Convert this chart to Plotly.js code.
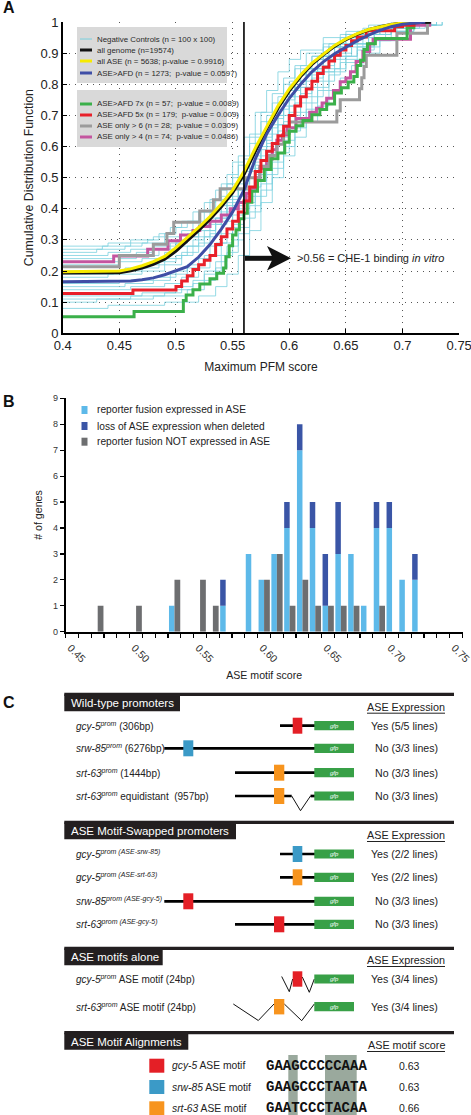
<!DOCTYPE html>
<html><head><meta charset="utf-8">
<script src="https://cdn.plot.ly/plotly-3.0.1.min.js"></script>
<style>html,body{margin:0;padding:0;background:#fff;}#chart{width:471px;height:1115px;}</style>
</head><body><div id="chart"></div>
<script>
// ---------------- Panel A data (CDF of maximum PFM score) ----------------
const threshold = 0.56;
const negCtrlX = [
 [0.40,0.44,0.46,0.48,0.49,0.50,0.51,0.52,0.53,0.54,0.55,0.56,0.57,0.58,0.59,0.60,0.61,0.63,0.65,0.67,0.70],
 [0.40,0.435,0.46,0.475,0.485,0.495,0.505,0.515,0.525,0.535,0.545,0.555,0.565,0.575,0.585,0.595,0.605,0.615,0.63,0.645,0.665,0.69],
 [0.40,0.43,0.455,0.47,0.49,0.505,0.515,0.525,0.535,0.545,0.555,0.565,0.575,0.585,0.595,0.605,0.62,0.635,0.65,0.67,0.69,0.71],
 [0.40,0.44,0.46,0.48,0.50,0.51,0.52,0.53,0.54,0.55,0.56,0.57,0.58,0.59,0.60,0.61,0.62,0.63,0.645,0.66,0.68,0.70],
 [0.40,0.445,0.465,0.48,0.495,0.51,0.52,0.53,0.54,0.55,0.56,0.57,0.58,0.59,0.60,0.61,0.625,0.64,0.655,0.675,0.70,0.72],
 [0.40,0.45,0.465,0.485,0.50,0.51,0.52,0.535,0.545,0.555,0.565,0.575,0.585,0.595,0.605,0.615,0.625,0.635,0.65,0.665,0.685,0.71],
 [0.40,0.45,0.47,0.49,0.50,0.515,0.525,0.535,0.545,0.555,0.565,0.575,0.585,0.595,0.605,0.615,0.63,0.645,0.66,0.68,0.70,0.72],
 [0.40,0.455,0.475,0.49,0.505,0.52,0.53,0.54,0.55,0.56,0.57,0.58,0.59,0.60,0.61,0.62,0.635,0.65,0.665,0.685,0.705,0.725],
 [0.40,0.445,0.47,0.485,0.50,0.51,0.52,0.53,0.54,0.55,0.56,0.57,0.58,0.59,0.60,0.61,0.62,0.63,0.645,0.66,0.68,0.70],
 [0.40,0.44,0.47,0.49,0.505,0.515,0.525,0.535,0.545,0.555,0.565,0.575,0.585,0.595,0.605,0.615,0.625,0.64,0.655,0.67,0.69,0.71],
 [0.40,0.45,0.48,0.50,0.51,0.525,0.535,0.545,0.555,0.565,0.575,0.585,0.595,0.605,0.615,0.625,0.64,0.655,0.67,0.69,0.71,0.73],
 [0.40,0.455,0.48,0.495,0.51,0.52,0.53,0.54,0.55,0.56,0.57,0.58,0.59,0.60,0.61,0.62,0.63,0.64,0.655,0.67,0.69,0.715],
 [0.40,0.46,0.49,0.505,0.52,0.53,0.54,0.55,0.56,0.57,0.58,0.59,0.60,0.61,0.62,0.63,0.645,0.66,0.675,0.69,0.71,0.73],
 [0.40,0.47,0.50,0.515,0.525,0.535,0.545,0.555,0.565,0.575,0.585,0.595,0.605,0.615,0.625,0.635,0.65,0.665,0.68,0.695,0.71,0.735],
 [0.40,0.46,0.49,0.505,0.515,0.525,0.54,0.55,0.56,0.57,0.58,0.59,0.60,0.61,0.62,0.63,0.64,0.65,0.66,0.675,0.695,0.72],
 [0.40,0.43,0.48,0.51,0.525,0.535,0.545,0.555,0.565,0.575,0.585,0.595,0.605,0.615,0.625,0.635,0.645,0.66,0.675,0.69,0.705,0.73],
 [0.40,0.44,0.49,0.52,0.535,0.545,0.555,0.565,0.575,0.585,0.595,0.605,0.615,0.625,0.635,0.645,0.655,0.665,0.68,0.695,0.71,0.735]
];
const negCtrlY = [
 [0.28,0.29,0.30,0.31,0.32,0.34,0.36,0.39,0.43,0.48,0.55,0.63,0.71,0.78,0.84,0.88,0.91,0.95,0.97,0.99,1.00],
 [0.27,0.28,0.29,0.30,0.32,0.34,0.36,0.39,0.42,0.46,0.51,0.57,0.64,0.71,0.77,0.82,0.86,0.90,0.93,0.96,0.98,1.00],
 [0.26,0.27,0.28,0.29,0.31,0.33,0.36,0.39,0.43,0.48,0.54,0.61,0.68,0.74,0.80,0.85,0.89,0.93,0.96,0.98,0.99,1.00],
 [0.25,0.26,0.27,0.28,0.30,0.32,0.35,0.39,0.44,0.50,0.56,0.63,0.70,0.76,0.81,0.86,0.89,0.92,0.95,0.97,0.99,1.00],
 [0.24,0.25,0.26,0.27,0.29,0.31,0.34,0.37,0.41,0.46,0.52,0.59,0.66,0.72,0.78,0.83,0.88,0.92,0.95,0.98,0.99,1.00],
 [0.23,0.24,0.25,0.27,0.29,0.31,0.33,0.37,0.43,0.49,0.56,0.63,0.70,0.76,0.81,0.85,0.89,0.92,0.95,0.97,0.99,1.00],
 [0.22,0.23,0.24,0.26,0.28,0.30,0.33,0.37,0.42,0.48,0.55,0.62,0.69,0.75,0.80,0.85,0.89,0.93,0.96,0.98,0.99,1.00],
 [0.20,0.21,0.22,0.24,0.26,0.29,0.32,0.36,0.41,0.47,0.54,0.61,0.67,0.73,0.79,0.84,0.88,0.92,0.95,0.97,0.99,1.00],
 [0.19,0.20,0.21,0.23,0.25,0.28,0.31,0.35,0.39,0.44,0.50,0.57,0.64,0.70,0.76,0.81,0.85,0.89,0.93,0.96,0.98,1.00],
 [0.18,0.19,0.20,0.22,0.25,0.28,0.31,0.35,0.40,0.46,0.53,0.60,0.67,0.73,0.79,0.84,0.88,0.92,0.95,0.97,0.99,1.00],
 [0.16,0.17,0.18,0.20,0.22,0.25,0.29,0.34,0.40,0.47,0.54,0.61,0.68,0.74,0.79,0.84,0.89,0.93,0.96,0.98,0.99,1.00],
 [0.15,0.16,0.17,0.19,0.21,0.24,0.28,0.32,0.38,0.44,0.51,0.58,0.65,0.71,0.77,0.82,0.86,0.90,0.93,0.96,0.98,1.00],
 [0.14,0.15,0.16,0.18,0.21,0.25,0.29,0.35,0.42,0.49,0.56,0.63,0.70,0.76,0.81,0.85,0.89,0.93,0.96,0.98,0.99,1.00],
 [0.12,0.13,0.14,0.16,0.19,0.23,0.28,0.34,0.41,0.48,0.55,0.62,0.68,0.74,0.79,0.84,0.88,0.92,0.95,0.97,0.99,1.00],
 [0.11,0.12,0.13,0.15,0.17,0.20,0.25,0.30,0.37,0.44,0.51,0.58,0.65,0.71,0.76,0.81,0.85,0.89,0.92,0.95,0.98,1.00],
 [0.10,0.11,0.12,0.14,0.17,0.21,0.26,0.32,0.39,0.46,0.53,0.60,0.66,0.72,0.78,0.83,0.87,0.91,0.94,0.97,0.99,1.00],
 [0.08,0.09,0.10,0.12,0.15,0.19,0.25,0.33,0.42,0.50,0.57,0.63,0.68,0.73,0.78,0.82,0.86,0.90,0.94,0.97,0.99,1.00]
];
const genomeX = [0.40,0.45,0.46,0.47,0.48,0.49,0.50,0.51,0.52,0.53,0.54,0.55,0.56,0.57,0.58,0.59,0.60,0.61,0.62,0.63,0.64,0.65,0.66,0.67,0.68,0.69,0.70,0.725];
const genomeY = [0.194,0.195,0.201,0.210,0.222,0.238,0.264,0.297,0.331,0.367,0.407,0.452,0.510,0.585,0.657,0.723,0.779,0.825,0.864,0.895,0.922,0.944,0.961,0.975,0.985,0.992,0.997,1.0];
const allAseX = [0.40,0.45,0.46,0.47,0.48,0.49,0.50,0.51,0.52,0.53,0.54,0.55,0.56,0.57,0.58,0.59,0.60,0.61,0.62,0.63,0.64,0.65,0.66,0.67,0.68,0.69,0.70,0.71];
const allAseY = [0.198,0.200,0.207,0.217,0.230,0.247,0.275,0.307,0.340,0.375,0.415,0.460,0.520,0.595,0.665,0.730,0.785,0.830,0.868,0.898,0.925,0.946,0.963,0.976,0.985,0.992,0.997,1.0];
const aseAfdX = [0.40,0.45,0.46,0.47,0.48,0.49,0.50,0.51,0.52,0.53,0.54,0.55,0.56,0.57,0.58,0.59,0.60,0.61,0.62,0.63,0.64,0.65,0.66,0.67,0.68,0.69,0.70,0.72];
const aseAfdY = [0.166,0.166,0.168,0.172,0.178,0.188,0.200,0.214,0.245,0.285,0.335,0.390,0.460,0.560,0.640,0.700,0.755,0.800,0.840,0.872,0.898,0.920,0.940,0.958,0.973,0.985,0.993,1.0];
const afd7X = [0.40,0.463,0.5065,0.509,0.515,0.521,0.53,0.536,0.542,0.544,0.547,0.550,0.553,0.556,0.560,0.563,0.567,0.572,0.578,0.584,0.590,0.596,0.600,0.606,0.612,0.620,0.627,0.633,0.640,0.646,0.652,0.657,0.660,0.663,0.666,0.669,0.676,0.704,0.71];
const afd7Y = [0.053,0.070,0.105,0.123,0.140,0.158,0.175,0.193,0.210,0.246,0.281,0.316,0.333,0.368,0.386,0.421,0.456,0.491,0.526,0.561,0.579,0.614,0.649,0.667,0.684,0.702,0.719,0.737,0.772,0.789,0.807,0.825,0.860,0.877,0.912,0.930,0.947,0.982,1.0];
const afd5X = [0.40,0.462,0.50,0.505,0.51,0.515,0.52,0.525,0.53,0.535,0.54,0.545,0.55,0.555,0.56,0.565,0.57,0.575,0.58,0.585,0.59,0.595,0.60,0.605,0.61,0.615,0.62,0.625,0.63,0.635,0.64,0.645,0.65,0.655,0.66,0.668,0.693,0.70,0.71];
const afd5Y = [0.128,0.139,0.150,0.168,0.185,0.205,0.220,0.235,0.250,0.285,0.310,0.335,0.360,0.390,0.425,0.470,0.520,0.555,0.585,0.610,0.635,0.665,0.700,0.730,0.760,0.785,0.810,0.835,0.855,0.875,0.893,0.910,0.925,0.940,0.952,0.972,0.985,0.990,1.0];
const only6X = [0.40,0.45,0.48,0.492,0.498,0.521,0.533,0.539,0.562,0.574,0.582,0.589,0.595,0.60,0.642,0.645,0.662,0.664,0.666,0.668,0.695,0.722];
const only6Y = [0.214,0.250,0.286,0.321,0.357,0.393,0.429,0.464,0.500,0.536,0.571,0.607,0.643,0.679,0.714,0.750,0.786,0.821,0.857,0.893,0.964,1.0];
const only4X = [0.40,0.445,0.475,0.493,0.504,0.515,0.521,0.53,0.54,0.548,0.555,0.562,0.566,0.570,0.574,0.580,0.585,0.589,0.594,0.598,0.606,0.618,0.624,0.629,0.633,0.639,0.645,0.65,0.654,0.659,0.665,0.671,0.674,0.707,0.724];
const only4Y = [0.230,0.248,0.270,0.297,0.316,0.330,0.343,0.360,0.380,0.400,0.420,0.450,0.466,0.500,0.530,0.560,0.590,0.620,0.637,0.660,0.690,0.710,0.723,0.740,0.755,0.780,0.808,0.820,0.840,0.873,0.905,0.930,0.945,0.990,1.0];
const legendALabels = ['Negative Controls (n = 100 x 100)','all genome (n=19574)','all ASE (n = 5638; p-value = 0.9916)','ASE>AFD (n = 1273;&nbsp; p-value = 0.0597)','ASE>AFD 7x (n = 57;&nbsp; p-value = 0.0089)','ASE>AFD 5x (n = 179;&nbsp; p-value = 0.009)','ASE only > 6 (n = 28;&nbsp; p-value = 0.0309)','ASE only > 4 (n = 74;&nbsp; p-value = 0.0486)'];

// ---------------- Panel B data (histogram of ASE motif score) ----------------
const binStarts = [0.46,0.47,0.48,0.49,0.50,0.51,0.52,0.53,0.54,0.55,0.56,0.57,0.58,0.59,0.60,0.61,0.62,0.63,0.64,0.65,0.66,0.67,0.68,0.69,0.70,0.71];
const expressedASE = [0,0,0,0,0,0,1,0,0,0,1,0,3,2,3,4,7,4,1,3,3,1,4,4,2,2];
const lossWhenDeleted = [0,0,0,0,0,0,0,0,0,0,1,0,0,0,0,1,1,1,2,2,0,0,1,1,0,1];
const notExpressed = [1,0,0,1,0,0,2,0,2,1,0,0,0,2,3,1,2,1,1,1,1,0,1,0,0,0];
const legendBLabels = ['reporter fusion expressed in ASE','loss of ASE expression when deleted','reporter fusion NOT expressed in ASE'];

// ---------------- Panel C text ----------------
const wildLabels = ['<i>gcy-5</i><sup><i>prom</i></sup> (306bp)','<i>srw-85</i><sup><i>prom</i></sup> (6276bp)','<i>srt-63</i><sup><i>prom</i></sup> (1444bp)','<i>srt-63</i><sup><i>prom</i></sup> equidistant&nbsp; (957bp)'];
const wildResults = ['Yes (5/5 lines)','No (3/3 lines)','No (3/3 lines)','No (3/3 lines)'];
const swapLabels = ['<i>gcy-5</i><sup><i>prom (ASE-srw-85)</i></sup>','<i>gcy-5</i><sup><i>prom (ASE-srt-63)</i></sup>','<i>srw-85</i><sup><i>prom (ASE-gcy-5)</i></sup>','<i>srt-63</i><sup><i>prom (ASE-gcy-5)</i></sup>'];
const swapResults = ['Yes (2/2 lines)','Yes (2/2 lines)','No (3/3 lines)','No (3/3 lines)'];
const aloneLabels = ['<i>gcy-5</i><sup><i>prom</i></sup> ASE motif (24bp)','<i>srt-63</i><sup><i>prom</i></sup> ASE motif (24bp)'];
const aloneResults = ['Yes (3/4 lines)','Yes (3/4 lines)'];
const headerTitles = ['Wild-type promoters','ASE Motif-Swapped promoters','ASE motifs alone','ASE Motif Alignments'];
const headerRight = ['ASE Expression','ASE Expression','ASE Expression','ASE motif score'];
const motifGenes = ['gcy-5','srw-85','srt-63'];
const motifSeqs = ['GAAGCCCCCAAA','GAAGCCCTAATA','GAATCCCTACAA'];
const motifScores = ['0.63','0.63','0.66'];

// ---------------- drawing ----------------
const W = 471, H = 1115;
const FONT = 'Liberation Sans, Arial, Helvetica, sans-serif';
const X = p => p / W, Y = p => 1 - p / H;
const shapes = [], ann = [];
function txt(px, py, text, size, o) {
  o = o || {};
  ann.push({xref:'paper', yref:'paper', x:X(px), y:Y(py), text:text, showarrow:false,
    xanchor:o.xa || 'left', yanchor:'middle', textangle:o.angle || 0,
    font:{family:o.family || FONT, size:size, color:o.color || '#222'}});
}
function rect(x0, y0, x1, y1, fill, layer) {
  shapes.push({type:'rect', xref:'paper', yref:'paper', x0:X(x0), x1:X(x1), y0:Y(y1), y1:Y(y0),
    fillcolor:fill, line:{width:0}, layer:layer || 'above'});
}
function seg(x0, y0, x1, y1, w, c) {
  shapes.push({type:'line', xref:'paper', yref:'paper', x0:X(x0), x1:X(x1), y0:Y(y0), y1:Y(y1), line:{width:w, color:c || '#000'}});
}
function poly(pts, w, fill) {
  const d = 'M ' + pts.map(p => X(p[0]) + ',' + Y(p[1])).join(' L ') + (fill ? ' Z' : '');
  shapes.push({type:'path', xref:'paper', yref:'paper', path:d,
    line:{width:fill ? 0 : w, color:'#111'}, fillcolor:fill || 'rgba(0,0,0,0)'});
}

const traces = [];
const dA = {xaxis:'x', yaxis:'y', mode:'lines', hoverinfo:'skip', showlegend:false};
negCtrlX.forEach((xs, i) => traces.push(Object.assign({}, dA, {x:xs, y:negCtrlY[i], line:{color:'#7ad0de', width:0.8, shape:'hv'}})));
const mainCurves = [
  [only4X, only4Y, '#c4559f', 3, 'hv'],
  [only6X, only6Y, '#9b9b9b', 3, 'hv'],
  [afd7X, afd7Y, '#3bb04a', 3, 'hv'],
  [afd5X, afd5Y, '#e8202a', 3, 'hv'],
  [genomeX, genomeY, '#111111', 3.2, 'linear'],
  [allAseX, allAseY, '#f6ea00', 3, 'linear'],
  [aseAfdX, aseAfdY, '#3f4ea6', 3, 'linear']
];
mainCurves.forEach(c => traces.push(Object.assign({}, dA, {x:c[0], y:c[1], line:{color:c[2], width:c[3], shape:c[4]}})));

const dB = {xaxis:'x2', yaxis:'y2', type:'bar', hoverinfo:'skip', showlegend:false};
traces.push(Object.assign({}, dB, {x:binStarts, y:expressedASE, offset:0.0007, width:0.0043, marker:{color:'#5db9e9', line:{width:0}}}));
traces.push(Object.assign({}, dB, {x:binStarts, y:lossWhenDeleted, base:expressedASE, offset:0.0007, width:0.0043, marker:{color:'#3a55a6', line:{width:0}}}));
traces.push(Object.assign({}, dB, {x:binStarts, y:notExpressed, offset:0.005, width:0.0045, marker:{color:'#6d6e70', line:{width:0}}}));

// Panel letters
txt(1, 8, '<b>A</b>', 16, {color:'#111'});
txt(1, 401, '<b>B</b>', 16, {color:'#111'});
txt(1, 702, '<b>C</b>', 16, {color:'#111'});

// Panel A: threshold line + arrow + note
shapes.push({type:'line', xref:'x', yref:'y', x0:threshold, x1:threshold, y0:0, y1:1, line:{width:1.6, color:'#000'}});
seg(245, 258.3, 275, 258.3, 5, '#111');
poly([[267,246],[291,258.3],[267,270.6],[273,258.3]], 0, '#111');
txt(295, 258.3, '>0.56 = CHE-1 binding <i>in vitro</i>', 11, {color:'#222'});

// Panel A legend boxes
rect(77, 27, 227, 83, '#d9d9d9');
rect(77, 90, 227, 147, '#d9d9d9');
const legARows = [39, 50, 61, 73, 104, 115, 126, 137];
const legAColors = ['#7ad0de', '#111111', '#f6ea00', '#3f4ea6', '#3bb04a', '#e8202a', '#9b9b9b', '#c4559f'];
legendALabels.forEach((lab, i) => {
  seg(80, legARows[i], 92, legARows[i], i === 0 ? 1 : 3, legAColors[i]);
  txt(95, legARows[i], lab, 7.9, {color:'#2a2a2a'});
});

// Panel B legend
const legBRows = [410, 426, 441.7];
const legBColors = ['#5db9e9', '#3a55a6', '#6d6e70'];
legendBLabels.forEach((lab, i) => {
  rect(81.5, legBRows[i] - 4, 87.5, legBRows[i] + 4, legBColors[i]);
  txt(95, legBRows[i], lab, 10.2, {color:'#222'});
});

// Panel C
const headers = [[694.3, 180], [822.3, 236], [948.3, 162.7], [1032.7, 188.3]];
const rightY = [706.7, 835, 960, 1045];
headers.forEach((h, i) => {
  seg(64.3, h[0], 454, h[0], 3.2, '#231f20');
  rect(64.3, h[0], h[1], h[0] + 17, '#231f20');
  txt(68.5, h[0] + 9, headerTitles[i], 11.5, {color:'#ffffff'});
  txt(406, rightY[i], headerRight[i], 10.8, {xa:'center', color:'#222'});
  seg(367, rightY[i] + 6.5, 445, rightY[i] + 6.5, 1, '#222');
});
const RED = '#e41f26', BLU = '#3b9ac7', ORG = '#f7941e', GFP = '#38a047';
function gfp(y) {
  rect(314.3, y - 4.6, 354, y + 4.6, GFP);
  txt(334, y, '<i>gfp</i>', 6, {xa:'center', color:'#ffffff'});
}
const promRows = [
  {y:725.7, l:[280,315], b:[292.7,302.3], c:RED},
  {y:748.3, l:[164.3,315], b:[183.3,193.3], c:BLU},
  {y:772.7, l:[235,315], b:[274,284.3], c:ORG},
  {y:796, l:[235,291.7], b:[274,284.3], c:ORG, v:[[291.7,796],[300.5,810.7],[310.5,796],[315,796]]},
  {y:854, l:[280,315], b:[292.7,302.3], c:BLU},
  {y:877.3, l:[280,315], b:[292.7,302.3], c:ORG},
  {y:901.3, l:[164.3,315], b:[183.3,193.3], c:RED},
  {y:924.3, l:[235,315], b:[274,284.3], c:RED}
];
promRows.forEach(r => {
  seg(r.l[0], r.y, r.l[1], r.y, 2.7, '#000');
  if (r.v) { poly(r.v.slice(0, 3), 1, null); seg(310.5, r.y, 315, r.y, 2.7, '#000'); }
  rect(r.b[0], r.y - 8, r.b[1], r.y + 8, r.c);
  gfp(r.y);
});
const aloneRows = [
  {y:979, p1:[[281.7,976.5],[289.3,991.7],[292.7,979]], p2:[[302.3,977],[309.3,992.3],[314.3,979]], b:[292.7,302.3], c:RED},
  {y:1006.7, p1:[[233.3,1004],[258.3,1020.5],[274,1004]], p2:[[284.3,1004],[301.7,1020.7],[314.3,1004]], b:[274,284.3], c:ORG}
];
aloneRows.forEach(r => {
  poly(r.p1, 1, null); poly(r.p2, 1, null);
  rect(r.b[0], r.y - 7.7, r.b[1], r.y + 7.7, r.c);
  gfp(r.y);
});
promRows.slice(0, 4).forEach((r, i) => { txt(74, r.y, wildLabels[i], 10); txt(440, r.y, wildResults[i], 10.6, {xa:'right'}); });
promRows.slice(4).forEach((r, i) => { txt(74, r.y, swapLabels[i], 10); txt(440, r.y, swapResults[i], 10.6, {xa:'right'}); });
aloneRows.forEach((r, i) => { txt(74, r.y, aloneLabels[i], 10); txt(440, r.y, aloneResults[i], 10.6, {xa:'right'}); });

// motif alignments
rect(288.3, 1055, 297.7, 1115, '#9aa99d', 'below');
rect(325, 1055, 356.7, 1115, '#9aa99d', 'below');
const motifRows = [1065.7, 1087, 1108.3];
const motifCols = [RED, BLU, ORG];
motifGenes.forEach((g, i) => {
  rect(149.3, motifRows[i] - 7, 164.3, motifRows[i] + 7, motifCols[i]);
  txt(170, motifRows[i], '<i>' + g + '</i> ASE motif', 10.3);
  txt(264, motifRows[i], '<b>' + motifSeqs[i] + '</b>', 14, {family:'Liberation Mono, Courier New, monospace', color:'#111'});
  txt(409, motifRows[i], motifScores[i], 10.5, {xa:'center'});
});

const layout = {
  width:W, height:H, margin:{l:0, r:0, t:0, b:0}, paper_bgcolor:'#fff', plot_bgcolor:'rgba(0,0,0,0)',
  showlegend:false, barmode:'overlay', font:{family:FONT, color:'#222'},
  xaxis:{domain:[X(62.7), X(459.3)], anchor:'y', range:[0.4, 0.7501], tick0:0.4, dtick:0.05,
    ticks:'inside', ticklen:4, tickcolor:'#000', showline:true, linecolor:'#000', linewidth:1.5,
    showgrid:true, gridcolor:'#555', gridwidth:1, griddash:'1px,5px', zeroline:false,
    tickfont:{size:13, color:'#222'}, ticklabeloverflow:'allow', automargin:false, fixedrange:true,
    title:{text:'Maximum PFM score', font:{size:12, color:'#222'}, standoff:10}},
  yaxis:{domain:[Y(333.3), Y(22)], anchor:'x', range:[0, 1.0001], tick0:0, dtick:0.1,
    ticks:'inside', ticklen:4, tickcolor:'#000', showline:true, linecolor:'#000', linewidth:1.5,
    showgrid:true, gridcolor:'#555', gridwidth:1, griddash:'1px,5px', zeroline:false,
    tickfont:{size:13, color:'#222'}, ticklabeloverflow:'allow', automargin:false, fixedrange:true,
    title:{text:'Cumulative Distribution Function', font:{size:12.3, color:'#222'}, standoff:4}},
  xaxis2:{domain:[X(65.7), X(462.7)], anchor:'y2', range:[0.44, 0.7502], tick0:0.45, dtick:0.05, tickformat:'.2f',
    tickangle:45, ticklabelshift:-8, ticks:'outside', ticklen:4, tickwidth:1.2, tickcolor:'#000',
    minor:{dtick:0.01, tick0:0.45, ticks:'outside', ticklen:4, tickwidth:1.2, tickcolor:'#000', showgrid:false},
    showline:true, linecolor:'#000', linewidth:2, showgrid:false, zeroline:false,
    tickfont:{size:10.5, color:'#333'}, ticklabeloverflow:'allow', automargin:false, fixedrange:true,
    title:{text:'ASE motif score', font:{size:10.6, color:'#222'}, standoff:8}},
  yaxis2:{domain:[Y(631.7), Y(398.3)], anchor:'x2', range:[0, 9], tick0:0, dtick:1,
    ticks:'outside', ticklen:4, tickwidth:1.2, tickcolor:'#000', showline:true, linecolor:'#000', linewidth:2,
    showgrid:false, zeroline:false, tickfont:{size:9, color:'#333'}, automargin:false, fixedrange:true,
    title:{text:'# of genes', font:{size:10.6, color:'#222'}, standoff:8}},
  shapes:shapes, annotations:ann
};
Plotly.newPlot('chart', traces, layout, {staticPlot:true, displayModeBar:false});
</script></body></html>
